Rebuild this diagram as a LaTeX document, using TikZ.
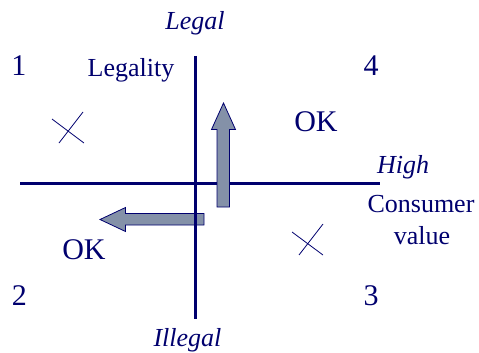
\documentclass[tikz,border=0pt]{standalone}
\usepackage{fontspec}
\setmainfont{Liberation Serif}
\definecolor{navy}{RGB}{0,0,110}
\definecolor{arrowfill}{RGB}{132,145,168}
\begin{document}
\begin{tikzpicture}[x=1pt,y=-1pt,
  lbl/.style={text=navy,anchor=base,inner sep=0pt,font=\fontsize{26}{28}\selectfont},
  ilbl/.style={lbl,font=\fontsize{26}{28}\selectfont\itshape},
  big/.style={lbl,font=\fontsize{30}{32}\selectfont},
  axis/.style={draw=navy,line width=3pt},
  cross/.style={draw=navy,line width=0.8pt},
  fatarrow/.style={draw=navy,line width=0.8pt,fill=arrowfill}]
\useasboundingbox (0,0) rectangle (479,353);
% axes
\coordinate (vtop) at (195.5,56);
\coordinate (vbot) at (195.5,319);
\coordinate (hl) at (20,183.3);
\coordinate (hr) at (380,183.3);
\draw[axis] (hl) -- (hr);
% arrows
\draw[fatarrow] (217,207) -- (217,129.5) -- (211.5,129.5) -- (223.5,103) -- (235.5,129.5) -- (229.5,129.5) -- (229.5,207) -- cycle;
\draw[fatarrow] (204,213.5) -- (125.5,213.5) -- (125.5,207.5) -- (100,219.5) -- (125.5,231.5) -- (125.5,225) -- (204,225) -- cycle;
\draw[axis] (vtop) -- (vbot);
% labels
\node[ilbl] (legal) at (195,30) {Legal};
\node[ilbl] (illegal) at (187.5,346) {Illegal};
\node[ilbl] (high) at (403,173) {High};
\node[lbl] (legality) at (131,76) {Legality};
\node[lbl] (consumer) at (421,212) {Consumer};
\node[lbl] (value) at (422,244) {value};
\node[big] (n1) at (19,75) {1};
\node[big] (n4) at (371,75) {4};
\node[big] (n2) at (19.5,305) {2};
\node[big] (n3) at (371,305) {3};
\node[big] (ok1) at (316,131) {OK};
\node[big] (ok2) at (84,259) {OK};
% crosses
\draw[cross] (52,119) -- (84,143);
\draw[cross] (59,143) -- (83,112);
\draw[cross] (292,232) -- (323,255);
\draw[cross] (299,255) -- (323,224);
\end{tikzpicture}
\end{document}
